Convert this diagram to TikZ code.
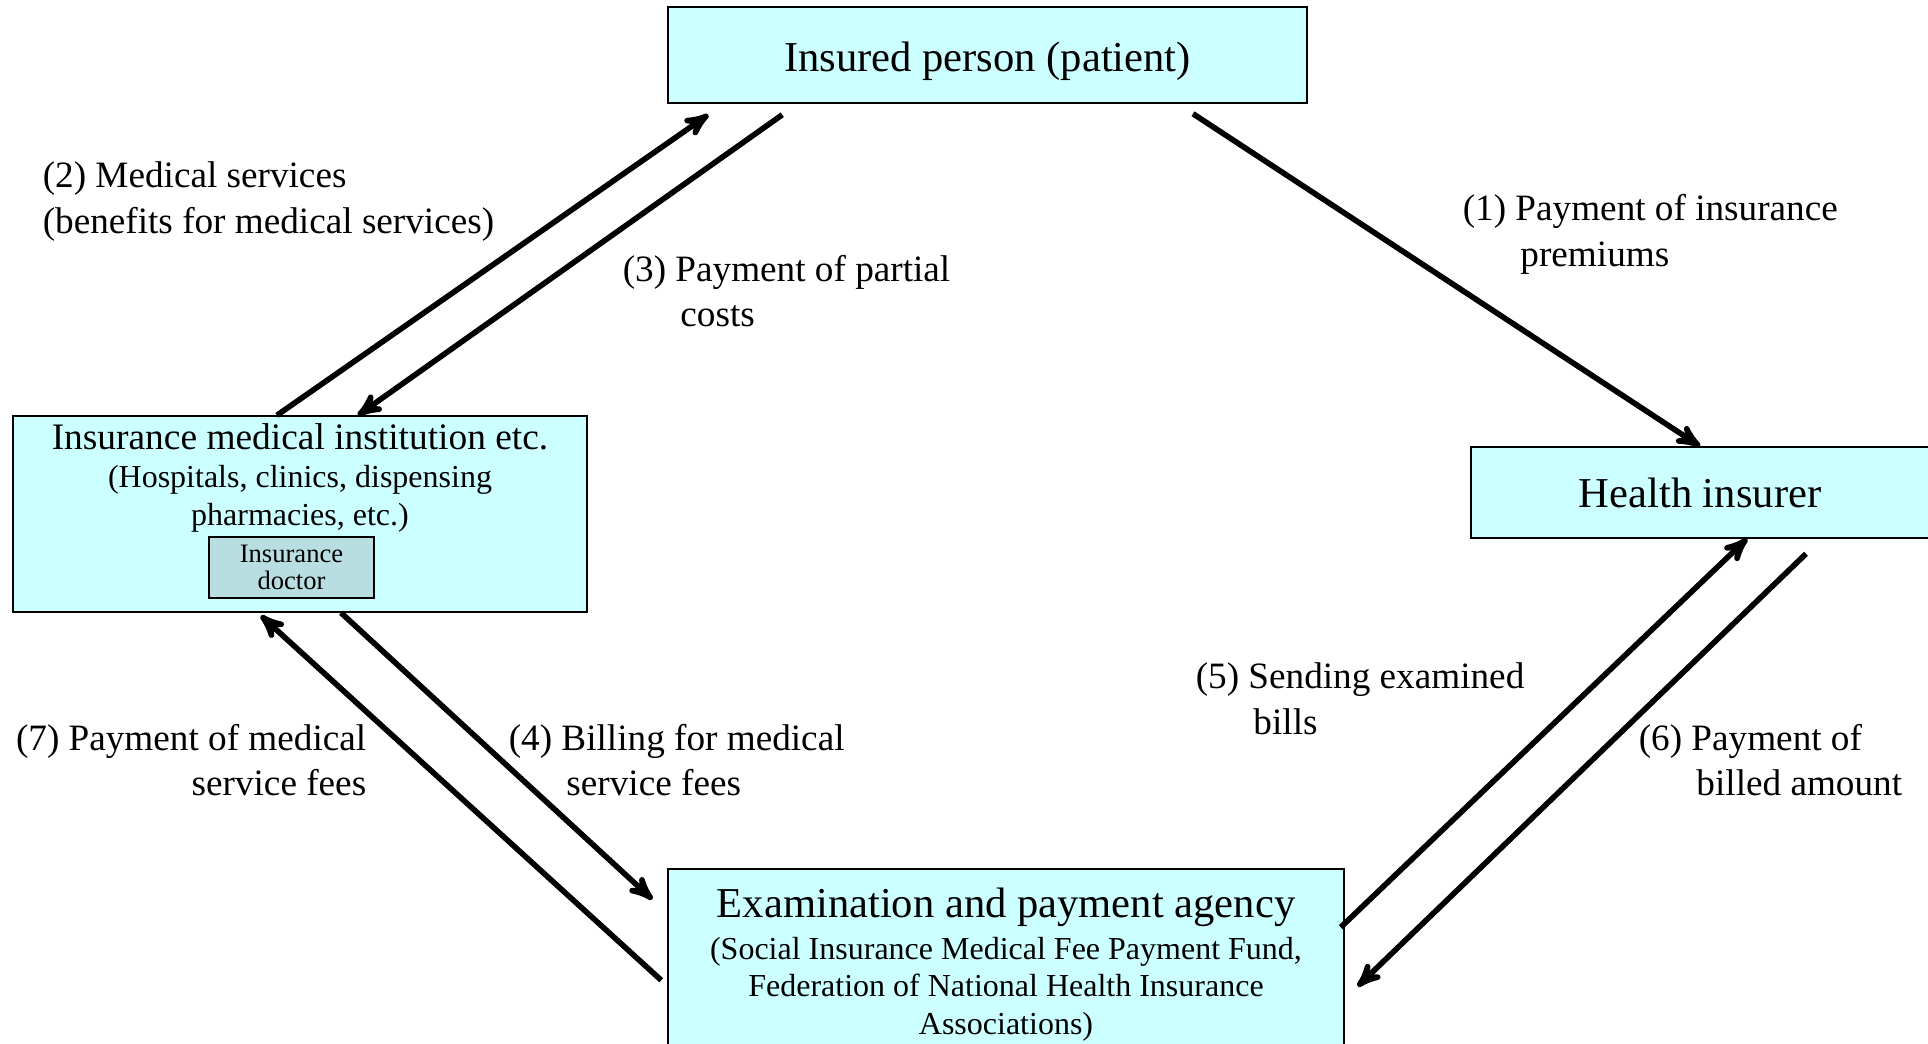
\documentclass[tikz,border=0pt]{standalone}
\usepackage{fontspec}
\setmainfont{Liberation Serif}
\usetikzlibrary{arrows}
\definecolor{boxcyan}{RGB}{204,255,255}
\definecolor{doccyan}{RGB}{185,222,226}
\newcommand{\hang}{\hspace*{1.55em}}

\begin{document}
\begin{tikzpicture}[x=0.5pt,y=-0.5pt,->,>=stealth',line width=2.8pt,
  main box/.style={rectangle,draw,line width=0.75pt,fill=boxcyan,inner sep=0pt},
  doc box/.style={rectangle,draw,line width=0.75pt,fill=doccyan,align=center,inner sep=0pt,
    font=\fontsize{13.3}{13.5}\selectfont},
  big text/.style={inner sep=0pt,font=\fontsize{21.3}{25}\selectfont},
  mid text/.style={inner sep=0pt,font=\fontsize{18.7}{22}\selectfont},
  sub text/.style={align=center,inner sep=0pt,font=\fontsize{16}{18.75}\selectfont},
  step text/.style={align=left,inner sep=0pt,font=\fontsize{18.6}{22.75}\selectfont}]

  \clip (0,0) rectangle (1928,1044);

  % boxes
  \node[main box,minimum width=319.5pt,minimum height=48pt] (patient) at (987.5,55) {};
  \node[big text] (patienttext) at (987.5,61) {Insured person (patient)};
  \node[main box,big text,minimum width=229pt,minimum height=45.5pt] (health) at (1700,492.5) {Health insurer};

  \node[main box,minimum width=287pt,minimum height=98pt] (inst) at (300,514) {};
  \node[mid text] (insttitle) at (300,437) {Insurance medical institution etc.};
  \node[sub text] (instsub) at (300,499) {(Hospitals, clinics, dispensing\\pharmacies, etc.)};
  \node[doc box,minimum width=82.5pt,minimum height=30.5pt] (doctor) at (291.5,567.5) {Insurance\\doctor};

  \node[main box,minimum width=338pt,minimum height=95.5pt] (exam) at (1006,964.5) {};
  \node[big text] (examtitle) at (1006,907) {Examination and payment agency};
  \node[sub text] (examsub) at (1006,989) {(Social Insurance Medical Fee Payment Fund,\\Federation of National Health Insurance\\Associations)};

  % flows
  \draw ([shift={(205.5,10)}]patient.south) -- (health.north);
  \draw ([shift={(-23,0)}]inst.north) -- ([shift={(41,11)}]patient.south west);
  \draw ([shift={(115,11)}]patient.south west) -- ([shift={(58,0)}]inst.north);
  \draw ([shift={(41,0)}]inst.south) -- ([shift={(-15,31)}]exam.north west);
  \draw ([shift={(-6,112)}]exam.north west) -- ([shift={(-39,3)}]inst.south);
  \draw ([shift={(-4,59)}]exam.north east) -- ([shift={(47,0)}]health.south);
  \draw ([shift={(106,15)}]health.south) -- ([shift={(13,118)}]exam.north east);

  % labels
  \node[step text,anchor=west] (lbl1) at (1460,234.5) {(1) Payment of insurance\\\hang premiums};
  \node[step text,anchor=west] (lbl2) at (40,201.5) {(2) Medical services\\(benefits for medical services)};
  \node[step text,anchor=west] (lbl3) at (620,291) {(3) Payment of partial\\\hang costs};
  \node[step text,anchor=west] (lbl4) at (506,760) {(4) Billing for medical\\\hang service fees};
  \node[step text,anchor=west] (lbl5) at (1193,699) {(5) Sending examined\\\hang bills};
  \node[step text,anchor=west] (lbl6) at (1636,760) {(6) Payment of\\\hang billed amount};
  \node[step text,anchor=east,align=right] (lbl7) at (369,760) {(7) Payment of medical\\service fees};

\end{tikzpicture}
\end{document}
